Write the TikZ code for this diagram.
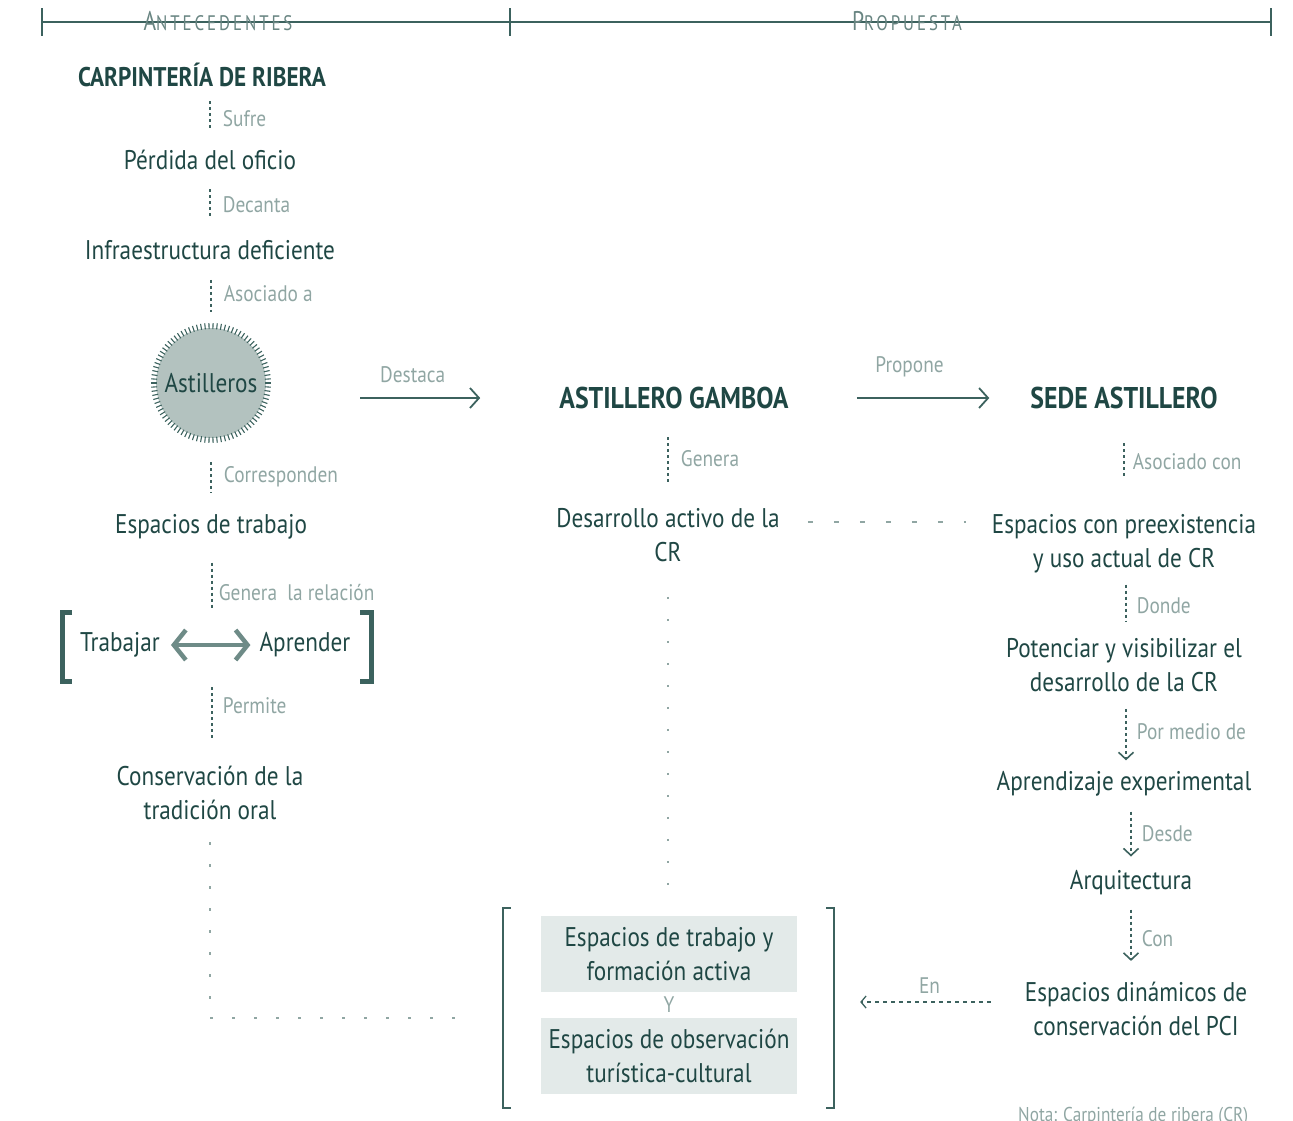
\documentclass[tikz,border=0pt]{standalone}
\usepackage{fontspec}
\setmainfont[FakeStretch=0.86]{PT Sans}
\newfontfamily\hdrfont[FakeStretch=0.8,LetterSpace=14]{PT Sans}
\usetikzlibrary{arrows.meta,positioning}

\definecolor{ink}{HTML}{1F4744}
\definecolor{inkline}{HTML}{3C625E}
\definecolor{sage}{HTML}{90A6A3}
\definecolor{dust}{HTML}{B3C2BF}
\definecolor{mist}{HTML}{E3EAE9}
\definecolor{arrowgray}{HTML}{6E8B87}

\tikzset{
  txt/.style={text=ink, font=\fontsize{27}{34}\selectfont, align=center, inner sep=0pt},
  ttl/.style={txt, font=\bfseries\fontsize{27}{34}\selectfont},
  bigttl/.style={txt, font=\bfseries\fontsize{30}{34}\selectfont},
  lbl/.style={text=sage, font=\fontsize{22.5}{24}\selectfont, inner sep=0pt},
  dotlink/.style={draw=inkline, line width=1.8pt, dash pattern=on 3pt off 3pt},
  sparse/.style={draw=sage, line width=1.3pt, dash pattern=on 2pt off 20pt},
  chev/.style={-{Straight Barb[length=7pt,width=15pt,line width=1.6pt]}},
  hdr/.style={text=sage!65!ink, font=\hdrfont, inner sep=0pt}
}

\begin{document}
\begin{tikzpicture}[x=1pt,y=-1pt]
\useasboundingbox (0,0) rectangle (1293,1120);

% header
\coordinate (hl) at (42,22);
\coordinate (hm) at (510,22);
\coordinate (hr) at (1271,22);
\draw[inkline, line width=1.5pt] (hl) -- (hr);
\foreach \c in {hl,hm,hr} \draw[inkline, line width=1.5pt] ([yshift=14pt]\c) -- ([yshift=-14pt]\c);
\node[hdr] (ante) at (218,21) {{\fontsize{27}{27}\selectfont A}{\fontsize{21}{21}\selectfont NTECEDENTES}};
\node[hdr] (prop) at (907,21) {{\fontsize{27}{27}\selectfont P}{\fontsize{21}{21}\selectfont ROPUESTA}};

% antecedentes
\node[ttl] (carp) at (202,75) {CARPINTERÍA DE RIBERA};
\node[txt] (perd) at (210,160) {Pérdida del oficio};
\node[txt] (infra) at (210,250) {Infraestructura deficiente};
\node[txt, circle, fill=dust, minimum size=110pt] (ast) at (211,383) {Astilleros};
\foreach \a in {0,4,...,356} \draw[inkline, line width=1.1pt] (ast.center) ++(\a:54) -- ++(\a:6);
\node[txt] (esp) at (211,527) {Espacios de trabajo};
\node[txt] (trab) at (120,645) {Trabajar};
\node[txt] (apr) at (305,645) {Aprender};
\coordinate (rel) at (212,645);
\node[txt] (cons) at (210,793) {Conservación de la\\tradición oral};

\draw[inkline, line width=5pt] (72,612) -- (62,612) -- (62,681) -- (72,681);
\draw[inkline, line width=5pt] (360,612) -- (371,612) -- (371,681) -- (360,681);
\draw[arrowgray, line width=4.5pt, {Straight Barb[length=12pt,width=30pt]}-{Straight Barb[length=12pt,width=30pt]}, shorten <=11pt, shorten >=9pt] (trab.east) -- (apr.west);

\draw[dotlink, shorten <=14pt, shorten >=19pt] (carp.south -| perd) -- node[lbl, right=12pt]{Sufre} (perd.north);
\draw[dotlink, shorten <=19pt, shorten >=22pt] (perd.south) -- node[lbl, right=12pt]{Decanta} (perd.south |- infra.north);
\draw[dotlink, shorten <=20pt, shorten >=16pt] (infra.south -| ast) -- node[lbl, right=12pt]{Asociado a} (ast.north);
\draw[dotlink, shorten <=24pt, shorten >=22pt] (ast.south) -- node[lbl, right=12pt]{Corresponden} (ast.south |- esp.north);
\draw[dotlink, shorten <=23pt, shorten >=37pt] (esp.south -| rel) -- node[lbl, right=6pt]{Genera\ \ la relación} (rel);
\draw[dotlink, shorten <=42pt, shorten >=28pt] (rel) -- node[lbl, right=10pt]{Permite} (rel |- cons.north);

% propuesta
\node[bigttl] (gam) at (674,398) {ASTILLERO GAMBOA};
\node[txt] (des) at (668,535) {Desarrollo activo de la\\CR};
\node[bigttl] (sede) at (1124,398) {SEDE ASTILLERO};
\node[txt] (pre) at (1124,544) {Espacios con preexistencia\\y uso actual de CR};
\node[txt] (pot) at (1124,665) {Potenciar y visibilizar el\\desarrollo de la CR};
\node[txt] (apre) at (1124,784) {Aprendizaje experimental};
\node[txt] (arq) at (1131,883) {Arquitectura};
\node[txt] (din) at (1136,1009) {Espacios dinámicos de\\conservación del PCI};

\node[minimum width=331pt, minimum height=200pt, inner sep=0pt] (grp) at (668.5,1008) {};
\draw[inkline, line width=2pt] ([xshift=8pt]grp.north west) -- (grp.north west) -- (grp.south west) -- ([xshift=8pt]grp.south west);
\draw[inkline, line width=2pt] ([xshift=-8pt]grp.north east) -- (grp.north east) -- (grp.south east) -- ([xshift=-8pt]grp.south east);
\node[txt, fill=mist, minimum width=256pt, minimum height=76pt] (opt1) at (669,954) {Espacios de trabajo y\\formación activa};
\node[lbl] (yy) at (669,1005) {Y};
\node[txt, fill=mist, minimum width=256pt, minimum height=76pt] (opt2) at (669,1056) {Espacios de observación\\turística-cultural};

\draw[inkline, line width=1.8pt, -{Straight Barb[length=9pt,width=20pt]}, shorten <=94pt, shorten >=79pt] (ast.east |- gam.west) -- node[lbl, above=14pt]{Destaca} (gam.west);
\draw[inkline, line width=1.8pt, -{Straight Barb[length=9pt,width=20pt]}, shorten <=68pt, shorten >=41pt] (gam.east) -- node[lbl, above=20pt]{Propone} (sede.west);

\draw[dotlink, shorten <=28pt, shorten >=23pt] (gam.south -| des) -- node[lbl, right=12pt]{Genera} (des.north);
\draw[sparse, shorten <=35pt, shorten >=15pt] (des.south) -- (des.south |- grp.north);
\draw[sparse, dash pattern=on 5pt off 21pt, shorten <=28pt, shorten >=26pt] ([yshift=13pt]des.east) -- ([yshift=13pt]des.east -| pre.west);
\draw[sparse, dash pattern=on 3pt off 19pt, shorten <=22pt, shorten >=41pt] (cons.south) |- ([yshift=-10pt]grp.west);

\draw[dotlink, shorten <=34pt, shorten >=36pt] (sede.south) -- node[lbl, right=8pt]{Asociado con} (pre.north);
\draw[dotlink, shorten <=11pt, shorten >=17pt] (pre.south -| 1126,0) -- node[lbl, right=10pt]{Donde} (pot.north -| 1126,0);
\draw[dotlink, chev, shorten <=17pt, shorten >=11pt] (pot.south -| 1126,0) -- node[lbl, right=10pt]{Por medio de} (apre.north -| 1126,0);
\draw[dotlink, chev, shorten <=15pt, shorten >=14pt] (apre.south -| arq) -- node[lbl, right=10pt]{Desde} (arq.north);
\draw[dotlink, chev, shorten <=14pt, shorten >=21pt] (arq.south) -- node[lbl, right=10pt]{Con} (arq.south |- din.north);
\draw[inkline, line width=1.3pt, dash pattern=on 4pt off 4pt, -{Straight Barb[length=5pt,width=12pt,line width=1.3pt]}, shorten <=34pt, shorten >=26pt] ([yshift=7pt]din.west) -- node[lbl, above=8pt]{En} ([yshift=7pt]din.west -| grp.east);

\node[lbl, anchor=west, font=\fontsize{20}{24}\selectfont] (nota) at (1018,1116) {Nota: Carpintería de ribera (CR)};

\end{tikzpicture}
\end{document}
